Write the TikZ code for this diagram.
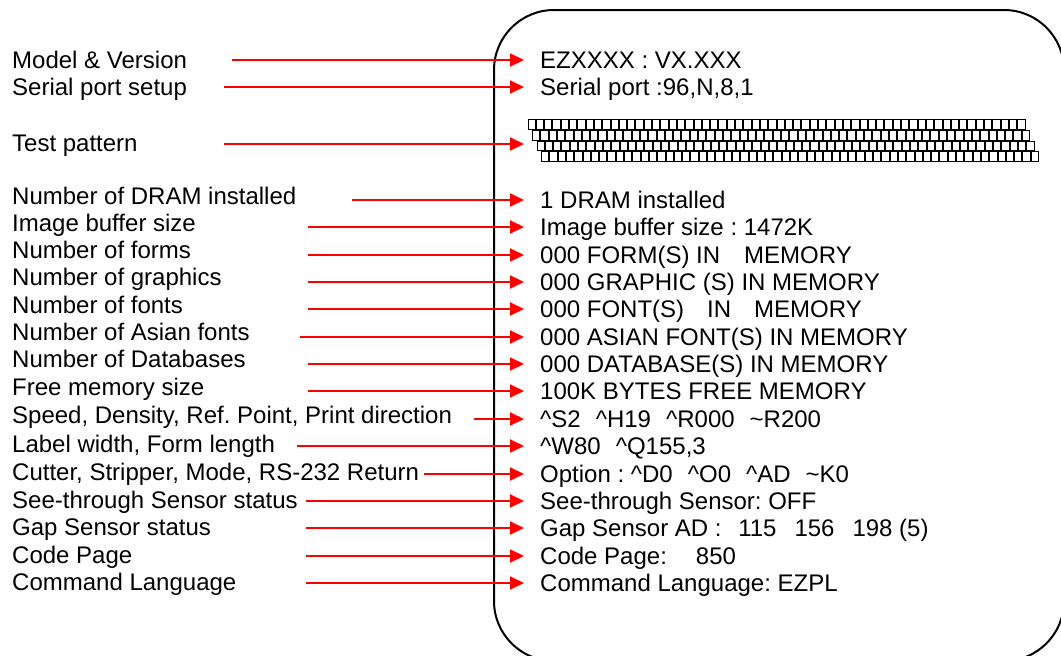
\documentclass[tikz,border=0pt]{standalone}
\usepackage{fontspec}
\setmainfont{Liberation Sans}
\usetikzlibrary{arrows.meta}
\newcommand{\crt}{\textasciicircum}
\newcommand{\tld}{\textasciitilde}
\frenchspacing
\begin{document}
\begin{tikzpicture}[x=1pt,y=-1pt,
  lab/.style={anchor=west, inner sep=0pt, text height=17.2pt, text depth=0pt, font=\fontsize{24}{28}\selectfont\frenchspacing},
  rt/.style={lab, inner xsep=16pt},
  arr/.style={red, line width=2pt, -{Triangle[length=14pt,width=13pt]}},
  cell/.style={black, line width=1pt},
  frame/.style={black, line width=2pt, rounded corners=60pt}]
\useasboundingbox (0,0) rectangle (1061,656);
\fill[white] (0,0) rectangle (1061,656);
\begin{scope}
\clip (0,0) rectangle (1061,656);
\draw[frame] (494,10) rectangle (1064,661);
\end{scope}
% test pattern
\foreach \r in {0,...,3}
  \foreach \c in {0,...,59}
    \draw[cell] ({527.5+4.5*\r+8.3*\c+0.5},{119.3+10.6*\r+0.5}) rectangle +(7.3,9.6);
% left labels
\node[lab] (l1) at (12,60) {Model \& Version};
\node[lab] (l2) at (12,87) {Serial port setup};
\node[lab] (l3) at (12,143) {Test pattern};
\node[lab] (l4) at (12,196) {Number of DRAM installed};
\node[lab] (l5) at (12,223) {Image buffer size};
\node[lab] (l6) at (12,250) {Number of forms};
\node[lab] (l7) at (12,277) {Number of graphics};
\node[lab] (l8) at (12,305) {Number of fonts};
\node[lab] (l9) at (12,332) {Number of Asian fonts};
\node[lab] (l10) at (12,359) {Number of Databases};
\node[lab] (l11) at (12,387) {Free memory size};
\node[lab] (l12) at (12,415) {Speed, Density, Ref. Point, Print direction};
\node[lab] (l13) at (12,444) {Label width, Form length};
\node[lab] (l14) at (12,472) {Cutter, Stripper, Mode, RS-232 Return};
\node[lab] (l15) at (12,500) {See-through Sensor status};
\node[lab] (l16) at (12,527) {Gap Sensor status};
\node[lab] (l17) at (12,555) {Code Page};
\node[lab] (l18) at (12,582) {Command Language};
% right texts
\node[rt] (r1) at (524,60) {EZXXXX : VX.XXX};
\node[rt] (r2) at (524,87) {Serial port :96,N,8,1};
\coordinate (r3) at (524,144);
\node[rt] (r4) at (524,200) {1 DRAM installed};
\node[rt] (r5) at (524,227) {Image buffer size : 1472K};
\node[rt] (r6) at (524,255) {000 FORM(S) IN\hspace{24pt}MEMORY};
\node[rt] (r7) at (524,282) {000 GRAPHIC (S) IN MEMORY};
\node[rt] (r8) at (524,309) {000 FONT(S)\hspace{23pt}IN\hspace{23pt}MEMORY};
\node[rt] (r9) at (524,337) {000 ASIAN FONT(S) IN MEMORY};
\node[rt] (r10) at (524,364) {000 DATABASE(S) IN MEMORY};
\node[rt] (r11) at (524,391) {100K BYTES FREE MEMORY};
\node[rt] (r12) at (524,419) {\crt S2\hspace{15pt}\crt H19\hspace{15pt}\crt R000\hspace{15pt}\tld R200};
\node[rt] (r13) at (524,446) {\crt W80\hspace{15pt}\crt Q155,3};
\node[rt] (r14) at (524,474) {Option : \crt D0\hspace{15pt}\crt O0\hspace{15pt}\crt AD\hspace{15pt}\tld K0};
\node[rt] (r15) at (524,501) {See-through Sensor: OFF};
\node[rt] (r16) at (524,528) {Gap Sensor AD : \hspace{10pt}115\hspace{18pt}156\hspace{18pt}198 (5)};
\node[rt] (r17) at (524,556) {Code Page:\hspace{29pt}850};
\node[rt] (r18) at (524,583) {Command Language: EZPL};
% arrow starts
\coordinate (s1) at (232,60);
\coordinate (s2) at (224,87);
\coordinate (s3) at (224,144);
\coordinate (s4) at (352,200);
\coordinate (s5) at (308,227);
\coordinate (s6) at (308,255);
\coordinate (s7) at (308,282);
\coordinate (s8) at (308,309);
\coordinate (s9) at (300,337);
\coordinate (s10) at (308,364);
\coordinate (s11) at (308,391);
\coordinate (s12) at (474,419);
\coordinate (s13) at (297,446);
\coordinate (s14) at (424,474);
\coordinate (s15) at (306,501);
\coordinate (s16) at (306,528);
\coordinate (s17) at (306,556);
\coordinate (s18) at (306,583);
\draw[arr] (s1) -- (r1.west);
\draw[arr] (s2) -- (r2.west);
\draw[arr] (s3) -- (r3);
\foreach \i in {4,...,18} \draw[arr] (s\i) -- (r\i.west);
\end{tikzpicture}
\end{document}
